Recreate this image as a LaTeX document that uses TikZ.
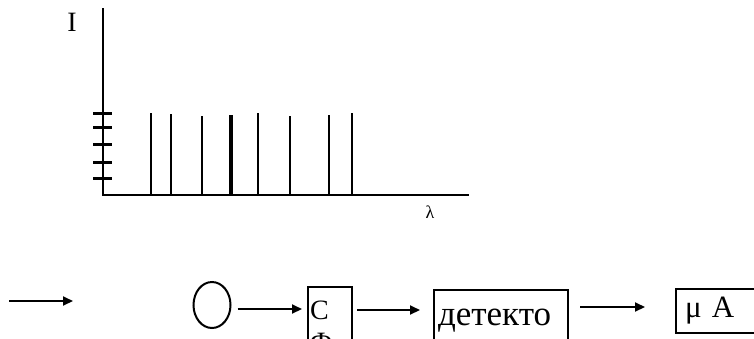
\documentclass[tikz,border=0pt]{standalone}
\usepackage{fontspec}
\setmainfont{Liberation Serif}
\usepackage{tikz}
\usetikzlibrary{arrows.meta,shapes.geometric}

\begin{document}
\begin{tikzpicture}
  [
    x=1pt, y=-1pt,
    axis/.style={line width=2pt},
    tick/.style={line width=3pt},
    peak/.style={line width=1.5pt},
    flow/.style={line width=2pt, -{Triangle[length=10pt, width=9pt]}},
    unit/.style={draw, line width=2pt, inner sep=0pt, anchor=north west},
    big/.style={font=\fontsize{28}{32}\selectfont}
  ]
  \useasboundingbox (0,0) rectangle (754,338);
  \clip (0,0) rectangle (754,338);

  % spectrum
  \node[big] (ilabel) at (72,22) {I};
  \node[font=\fontsize{18}{20}\selectfont] (lambda) at (430,212) {λ};
  \draw[axis] (103,8) -- (103,195) -- (469,195);
  \foreach \y in {113,127,144,162,178}
    \draw[tick] (93,\y) -- (112,\y);
  \foreach \x/\t in {151/113,171/114,202/116,258/113,290/116,329/115,352/113}
    \draw[peak] (\x,\t) -- (\x,195);
  \draw[line width=4pt] (231,115) -- (231,195);

  % setup
  \coordinate (in1) at (9,301);
  \coordinate (in2) at (73,301);
  \draw[flow] (in1) -- (in2);

  \node[draw, ellipse, line width=2pt, minimum width=37pt, minimum height=46pt, inner sep=0pt] (lamp) at (212,305) {};
  \node[unit, big, minimum width=44pt, minimum height=78pt, text width=40pt, align=left] (filter) at (307,286) {С\\Ф};
  \node[unit, font=\fontsize{35}{40}\selectfont, minimum width=134pt, minimum height=62pt, text width=126pt, align=left] (detector) at (433,289) {детекто};
  \node[unit, font=\fontsize{31}{34}\selectfont, minimum width=80pt, minimum height=44pt, text width=62pt, align=left] (meter) at (675,288) {μ A};

  \draw[flow] (lamp.east |- 0,309) -- (filter.west |- 0,309) [shorten <=6pt, shorten >=5pt];
  \draw[flow, shorten <=4pt, shorten >=13pt] (filter.east |- 0,310) -- (detector.west |- 0,310);
  \draw[flow, shorten <=11pt, shorten >=30pt] (detector.east |- 0,307) -- (meter.west |- 0,307);
\end{tikzpicture}
\end{document}
